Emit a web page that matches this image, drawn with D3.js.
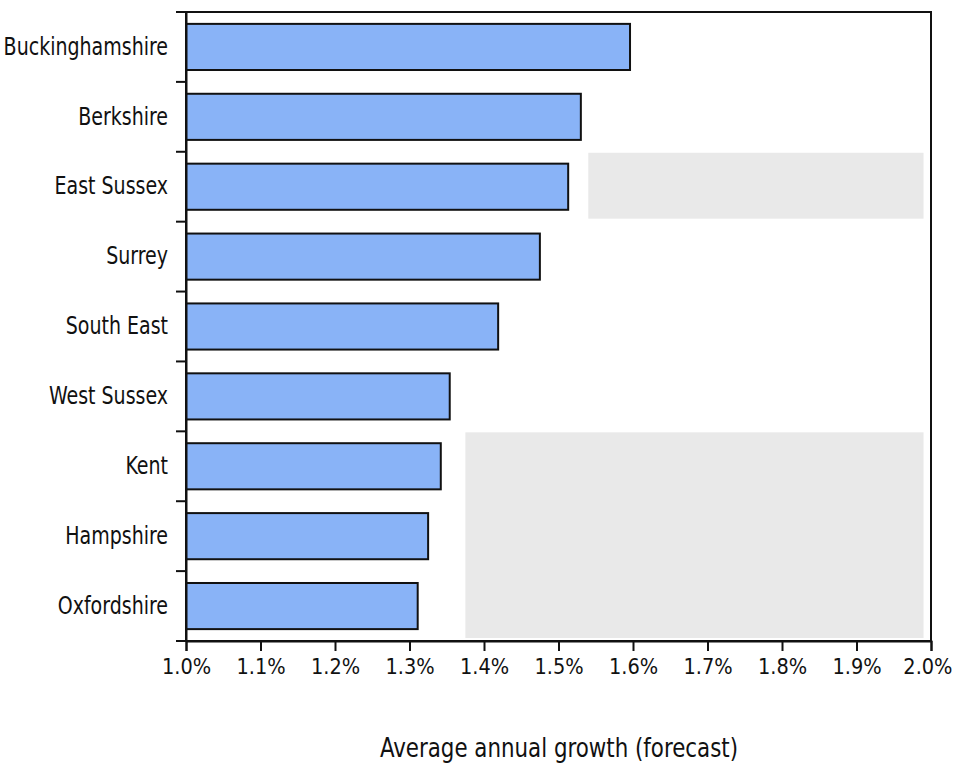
<!DOCTYPE html>
<html>
<head>
<meta charset="utf-8">
<script src="https://cdn.jsdelivr.net/npm/d3@7"></script>
<style>
  html, body { margin: 0; padding: 0; background: #fff; }
  svg text { font-family: "Liberation Sans Narrow", "Arial Narrow", "DejaVu Sans Condensed", sans-serif; fill: #111; }
</style>
</head>
<body>
<svg id="chart" width="955" height="767"></svg>
<script>
const categories = ["Buckinghamshire", "Berkshire", "East Sussex", "Surrey", "South East", "West Sussex", "Kent", "Hampshire", "Oxfordshire"];
const growth = [1.596, 1.530, 1.513, 1.475, 1.419, 1.354, 1.342, 1.325, 1.311];
const xTicks = [1.0, 1.1, 1.2, 1.3, 1.4, 1.5, 1.6, 1.7, 1.8, 1.9, 2.0];
const xTitle = "Average annual growth (forecast)";
// faint grey background bands visible in the picture
const shadeCats = [["East Sussex", "East Sussex"], ["Kent", "Oxfordshire"]];
const shadeFrom = [1.54, 1.375];

(function () {
const data = categories.map((c, i) => ({ cat: c, v: growth[i] }));

const svg = d3.select("#chart");
const mLeft = 186, mRight = 931, mTop = 12, mBottom = 641;

const x = d3.scaleLinear().domain([1.0, 2.0]).range([mLeft, mRight]);
const y = d3.scaleBand().domain(categories).range([mTop, mBottom]).paddingInner(0.34).paddingOuter(0.17);
const step = y.step();
const bandTop = c => y(c) - y.paddingOuter() * step;

// condense text horizontally (narrow font look)
function condense(sel, f) {
  sel.each(function () {
    const len = this.getComputedTextLength();
    d3.select(this).attr("textLength", len * f).attr("lengthAdjust", "spacingAndGlyphs");
  });
}

// shaded background
svg.append("g").selectAll("rect").data(shadeCats).join("rect")
  .attr("x", (d, i) => x(shadeFrom[i]))
  .attr("y", d => bandTop(d[0]) + 1)
  .attr("width", (d, i) => x(1.99) - x(shadeFrom[i]))
  .attr("height", d => bandTop(d[1]) + step - bandTop(d[0]) - 4)
  .attr("fill", "#e9e9e9");

// bars
svg.append("g").selectAll("rect").data(data).join("rect")
  .attr("x", x(1.0))
  .attr("y", d => y(d.cat))
  .attr("width", d => x(d.v) - x(1.0))
  .attr("height", y.bandwidth())
  .attr("fill", "#89b3f7")
  .attr("stroke", "#111")
  .attr("stroke-width", 2);

// frame
svg.append("rect")
  .attr("x", mLeft).attr("y", mTop)
  .attr("width", mRight - mLeft).attr("height", mBottom - mTop)
  .attr("fill", "none").attr("stroke", "#111").attr("stroke-width", 2);

// x axis
const xAxis = d3.axisBottom(x).tickValues(xTicks).tickSize(10).tickPadding(8)
  .tickFormat(d => d3.format(".1f")(d) + "%");
const gx = svg.append("g").attr("transform", `translate(0,${mBottom})`).call(xAxis);
gx.select(".domain").attr("stroke", "#111").attr("stroke-width", 2);
gx.selectAll(".tick line").attr("stroke", "#111").attr("stroke-width", 2);
gx.selectAll(".tick text").attr("font-size", 21.5).attr("fill", "#222");
// keep the last label inside the page
gx.selectAll(".tick text").filter(d => d === xTicks[xTicks.length - 1])
  .attr("text-anchor", "end").attr("x", 21);

// y axis labels (centered in bands), ticks at band boundaries
const yAxis = d3.axisLeft(y).tickSize(0).tickPadding(18);
const gy = svg.append("g").attr("transform", `translate(${mLeft},0)`).call(yAxis);
gy.select(".domain").attr("stroke", "#111").attr("stroke-width", 2);
gy.selectAll(".tick text").attr("font-size", 24).attr("fill", "#222");
condense(gy.selectAll(".tick text"), 0.88);

const boundaries = categories.map(c => bandTop(c)).concat([bandTop(categories[categories.length - 1]) + step]);
svg.append("g").selectAll("line").data(boundaries).join("line")
  .attr("x1", mLeft - 10).attr("x2", mLeft)
  .attr("y1", d => d).attr("y2", d => d)
  .attr("stroke", "#111").attr("stroke-width", 2);

// x title
const t = svg.append("text")
  .attr("x", 559)
  .attr("y", 757)
  .attr("text-anchor", "middle")
  .attr("font-size", 27)
  .attr("fill", "#222")
  .text(xTitle);
condense(t, 0.88);
})();
</script>
</body>
</html>
